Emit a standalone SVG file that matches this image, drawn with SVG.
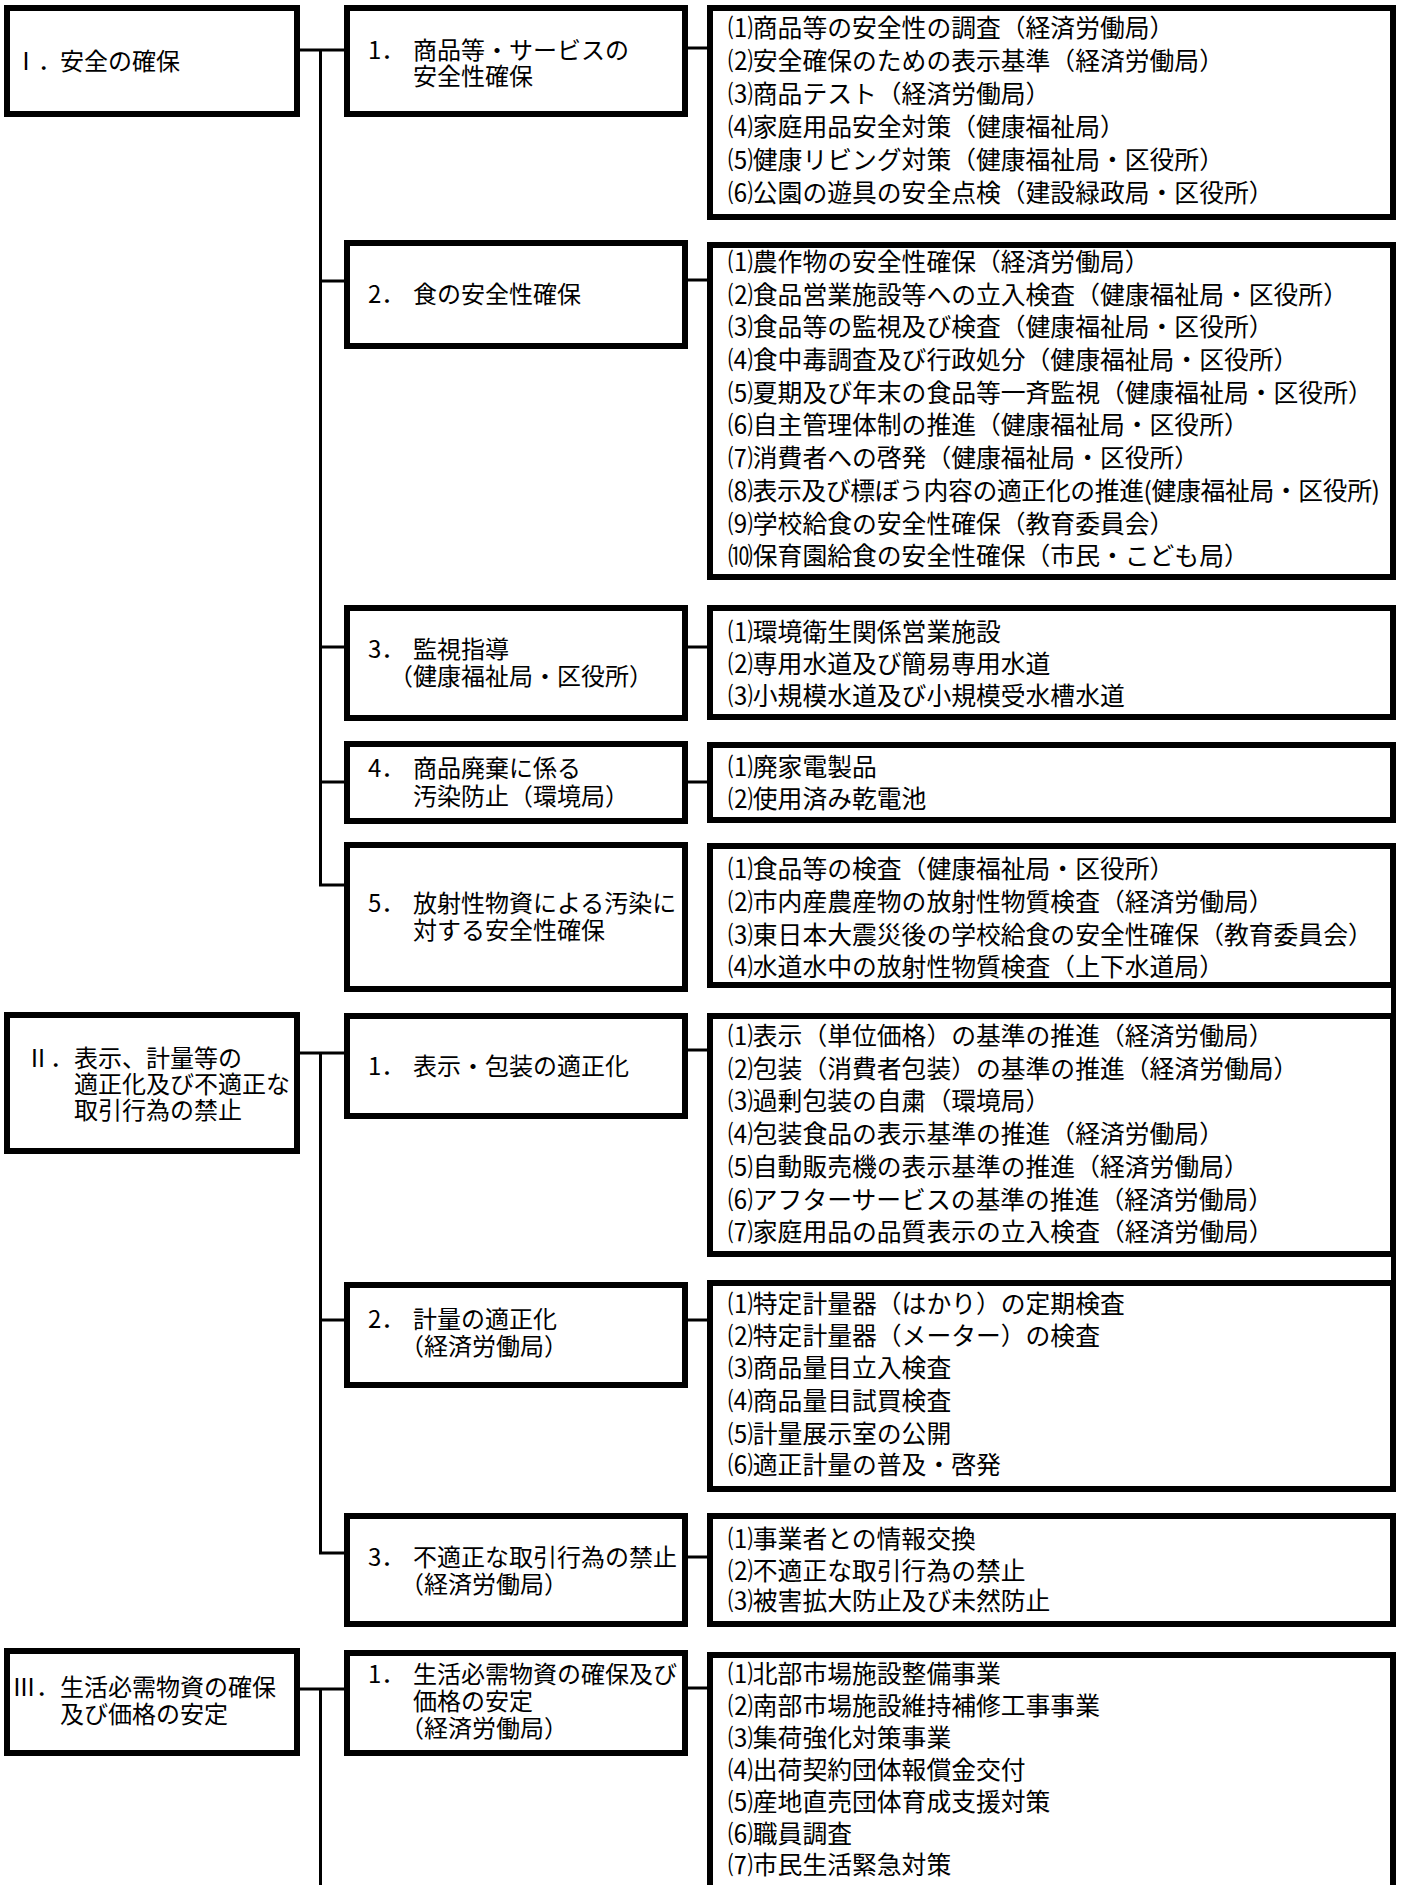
<svg xmlns="http://www.w3.org/2000/svg" width="1403" height="1885" viewBox="0 0 1403 1885">
<style>
.b{fill:#fff;stroke:#000;stroke-width:6}
.c{fill:none;stroke:#000;stroke-width:3}
.e{fill:none;stroke:#000;stroke-width:5}
text{font-family:"Noto Sans CJK JP","Noto Sans CJK SC",sans-serif;font-size:24px;fill:#000}
.i text{font-size:24.8px}
</style>
<rect width="1403" height="1885" fill="#fff"/>
<g id="connectors">
<path class="c" d="M300 50H347M320.5 50V885H347M320.5 281H347M320.5 647H347M320.5 782H347"/>
<path class="c" d="M685 48H710M685 280H710M685 647H710M685 782H710"/>
<path class="c" d="M300 1053H347M320.5 1053V1553H347M320.5 1320H347"/>
<path class="c" d="M685 1050H710M685 1320H710M685 1557H710"/>
<path class="c" d="M300 1689H347M320.5 1689V1890M685 1688H710"/>
<path class="e" d="M1393.5 845V1492"/>
</g>
<g id="n1">
<rect class="b" x="7" y="8" width="290" height="106"/>
<text x="14" y="70">Ⅰ．</text><text x="60" y="70">安全の確保</text>
</g>
<g id="n1-1">
<rect class="b" x="347" y="8" width="338" height="106"/>
<text x="368" y="59">1．</text><text x="413" y="59">商品等・サービスの</text>
<text x="413" y="85">安全性確保</text>
</g>
<g id="n1-1-items" class="i">
<rect class="b" x="710" y="8" width="683" height="209"/>
<text x="728" y="37">⑴商品等の安全性の調査（経済労働局）</text>
<text x="728" y="70">⑵安全確保のための表示基準（経済労働局）</text>
<text x="728" y="103">⑶商品テスト（経済労働局）</text>
<text x="728" y="136">⑷家庭用品安全対策（健康福祉局）</text>
<text x="728" y="169">⑸健康リビング対策（健康福祉局・区役所）</text>
<text x="728" y="202">⑹公園の遊具の安全点検（建設緑政局・区役所）</text>
</g>
<g id="n1-2">
<rect class="b" x="347" y="243" width="338" height="103"/>
<text x="368" y="303">2．</text><text x="413" y="303">食の安全性確保</text>
</g>
<g id="n1-2-items" class="i">
<rect class="b" x="710" y="245" width="683" height="332"/>
<text x="728" y="271">⑴農作物の安全性確保（経済労働局）</text>
<text x="728" y="304">⑵食品営業施設等への立入検査（健康福祉局・区役所）</text>
<text x="728" y="336">⑶食品等の監視及び検査（健康福祉局・区役所）</text>
<text x="728" y="369">⑷食中毒調査及び行政処分（健康福祉局・区役所）</text>
<text x="728" y="402">⑸夏期及び年末の食品等一斉監視（健康福祉局・区役所）</text>
<text x="728" y="434">⑹自主管理体制の推進（健康福祉局・区役所）</text>
<text x="728" y="467">⑺消費者への啓発（健康福祉局・区役所）</text>
<text x="728" y="500" textLength="652">⑻表示及び標ぼう内容の適正化の推進(健康福祉局・区役所)</text>
<text x="728" y="533">⑼学校給食の安全性確保（教育委員会）</text>
<text x="728" y="565">⑽保育園給食の安全性確保（市民・こども局）</text>
</g>
<g id="n1-3">
<rect class="b" x="347" y="608" width="338" height="110"/>
<text x="368" y="658">3．</text><text x="413" y="658">監視指導</text>
<text x="389" y="685">（健康福祉局・区役所）</text>
</g>
<g id="n1-3-items" class="i">
<rect class="b" x="710" y="608" width="683" height="109"/>
<text x="728" y="641">⑴環境衛生関係営業施設</text>
<text x="728" y="673">⑵専用水道及び簡易専用水道</text>
<text x="728" y="705">⑶小規模水道及び小規模受水槽水道</text>
</g>
<g id="n1-4">
<rect class="b" x="347" y="744" width="338" height="77"/>
<text x="368" y="777">4．</text><text x="413" y="777">商品廃棄に係る</text>
<text x="413" y="805">汚染防止（環境局）</text>
</g>
<g id="n1-4-items" class="i">
<rect class="b" x="710" y="745" width="683" height="75"/>
<text x="728" y="776">⑴廃家電製品</text>
<text x="728" y="808">⑵使用済み乾電池</text>
</g>
<g id="n1-5">
<rect class="b" x="347" y="845" width="338" height="144"/>
<text x="368" y="912">5．</text><text x="413" y="912">放射性物資による汚染に</text>
<text x="413" y="939">対する安全性確保</text>
</g>
<g id="n1-5-items" class="i">
<rect class="b" x="710" y="846" width="683" height="139"/>
<text x="728" y="878">⑴食品等の検査（健康福祉局・区役所）</text>
<text x="728" y="911">⑵市内産農産物の放射性物質検査（経済労働局）</text>
<text x="728" y="944">⑶東日本大震災後の学校給食の安全性確保（教育委員会）</text>
<text x="728" y="976">⑷水道水中の放射性物質検査（上下水道局）</text>
</g>
<g id="n2">
<rect class="b" x="7" y="1015" width="290" height="136"/>
<text x="26" y="1067">Ⅱ．</text><text x="74" y="1067">表示、計量等の</text>
<text x="74" y="1093">適正化及び不適正な</text>
<text x="74" y="1119">取引行為の禁止</text>
</g>
<g id="n2-1">
<rect class="b" x="347" y="1016" width="338" height="100"/>
<text x="368" y="1075">1．</text><text x="413" y="1075">表示・包装の適正化</text>
</g>
<g id="n2-1-items" class="i">
<rect class="b" x="710" y="1016" width="683" height="238"/>
<text x="728" y="1045">⑴表示（単位価格）の基準の推進（経済労働局）</text>
<text x="728" y="1078">⑵包装（消費者包装）の基準の推進（経済労働局）</text>
<text x="728" y="1110">⑶過剰包装の自粛（環境局）</text>
<text x="728" y="1143">⑷包装食品の表示基準の推進（経済労働局）</text>
<text x="728" y="1176">⑸自動販売機の表示基準の推進（経済労働局）</text>
<text x="728" y="1209">⑹アフターサービスの基準の推進（経済労働局）</text>
<text x="728" y="1241">⑺家庭用品の品質表示の立入検査（経済労働局）</text>
</g>
<g id="n2-2">
<rect class="b" x="347" y="1285" width="338" height="100"/>
<text x="368" y="1328">2．</text><text x="413" y="1328">計量の適正化</text>
<text x="400" y="1355">（経済労働局）</text>
</g>
<g id="n2-2-items" class="i">
<rect class="b" x="710" y="1283" width="683" height="206"/>
<text x="728" y="1313">⑴特定計量器（はかり）の定期検査</text>
<text x="728" y="1345">⑵特定計量器（メーター）の検査</text>
<text x="728" y="1377">⑶商品量目立入検査</text>
<text x="728" y="1410">⑷商品量目試買検査</text>
<text x="728" y="1443">⑸計量展示室の公開</text>
<text x="728" y="1474">⑹適正計量の普及・啓発</text>
</g>
<g id="n2-3">
<rect class="b" x="347" y="1516" width="338" height="108"/>
<text x="368" y="1566">3．</text><text x="413" y="1566">不適正な取引行為の禁止</text>
<text x="400" y="1593">（経済労働局）</text>
</g>
<g id="n2-3-items" class="i">
<rect class="b" x="710" y="1516" width="683" height="108"/>
<text x="728" y="1548">⑴事業者との情報交換</text>
<text x="728" y="1580">⑵不適正な取引行為の禁止</text>
<text x="728" y="1610">⑶被害拡大防止及び未然防止</text>
</g>
<g id="n3">
<rect class="b" x="7" y="1651" width="290" height="102"/>
<text x="12" y="1696">Ⅲ．</text><text x="60" y="1696">生活必需物資の確保</text>
<text x="60" y="1723">及び価格の安定</text>
</g>
<g id="n3-1">
<rect class="b" x="347" y="1653" width="338" height="100"/>
<text x="368" y="1683">1．</text><text x="413" y="1683">生活必需物資の確保及び</text>
<text x="413" y="1710">価格の安定</text>
<text x="400" y="1737">（経済労働局）</text>
</g>
<g id="n3-1-items" class="i">
<rect class="b" x="710" y="1655" width="683" height="260"/>
<text x="728" y="1683">⑴北部市場施設整備事業</text>
<text x="728" y="1715">⑵南部市場施設維持補修工事事業</text>
<text x="728" y="1747">⑶集荷強化対策事業</text>
<text x="728" y="1779">⑷出荷契約団体報償金交付</text>
<text x="728" y="1811">⑸産地直売団体育成支援対策</text>
<text x="728" y="1843">⑹職員調査</text>
<text x="728" y="1874">⑺市民生活緊急対策</text>
</g>
</svg>
